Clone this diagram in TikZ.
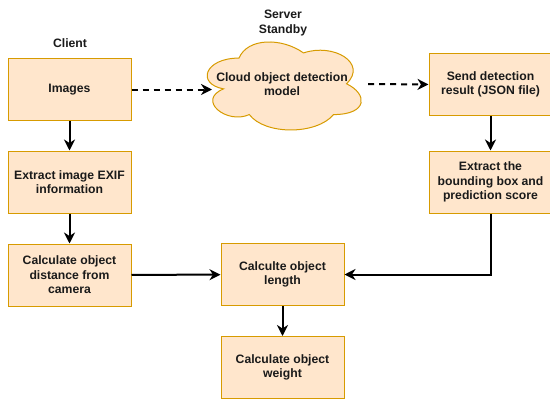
\documentclass[tikz,border=0pt]{standalone}
\usepackage{fontspec}
\setmainfont{Liberation Sans}
\usetikzlibrary{arrows.meta}
\definecolor{boxfill}{HTML}{FFE6CC}
\definecolor{boxline}{HTML}{D79B00}
\definecolor{ink}{HTML}{1A1A1A}
\tikzset{
  stepbox/.style={draw=boxline, fill=boxfill, line width=1pt, minimum width=123pt,
    minimum height=62pt, inner sep=2pt, align=center,
    font=\fontsize{12.2}{14.6}\selectfont\bfseries, text=ink},
  heading/.style={align=center, font=\fontsize{12.2}{15.5}\selectfont\bfseries, text=ink},
  flow/.style={line width=2pt, -{Stealth[length=11pt,width=11pt,inset=3.5pt]}},
  dflow/.style={flow, dash pattern=on 6pt off 5pt},
}
\begin{document}
\begin{tikzpicture}[x=1pt,y=-1pt]
\useasboundingbox (0,0) rectangle (550,399);

% headings
\node[heading] (client) at (70,43) {Client};
\node[heading] (server) at (283,23) {Server\\Standby};

% client-side steps
\node[stepbox] (img)  at (69.5,89.5)  {Images};
\node[stepbox] (exif) at (69.5,182)   {Extract image EXIF\\information};
\node[stepbox] (dist) at (69.5,275)   {Calculate object\\distance from\\camera};

% shared steps
\node[stepbox] (len) at (282.5,274.5) {Calculte object\\length};
\node[stepbox] (wt)  at (282.5,367.5) {Calculate object\\weight};

% server-side steps (right edge runs off the page)
\node[stepbox] (send) at (490.5,84.5) {Send detection\\result (JSON file)};
\node[stepbox] (bbox) at (490.5,182)  {Extract the\\bounding box and\\prediction score};

% cloud outline
\begin{scope}[shift={(196pt,-32.4pt)}, x=172pt, y=-102.7pt]
  \draw[boxline, fill=boxfill, line width=1pt]
    (0.25,0.25) .. controls (0.05,0.25) and (0,0.5) .. (0.16,0.55)
    .. controls (0,0.66) and (0.18,0.9) .. (0.31,0.8)
    .. controls (0.4,1) and (0.7,1) .. (0.8,0.8)
    .. controls (1,0.8) and (1,0.6) .. (0.875,0.5)
    .. controls (1,0.3) and (0.8,0.1) .. (0.625,0.2)
    .. controls (0.5,0.05) and (0.3,0.05) .. (0.25,0.25) -- cycle;
\end{scope}
\node[heading, minimum width=172pt, minimum height=102.7pt, inner sep=0pt,
  font=\fontsize{12.2}{14.6}\selectfont\bfseries] (cloud) at (282,84)
  {Cloud object detection\\model};
\coordinate (cloudin) at (212,89.5);

% connectors
\draw[dflow] (img.east) -- (cloudin);
\draw[dflow] (cloud.east) -- (send.west);
\draw[flow] (img) -- (exif);
\draw[flow] (exif) -- (dist);
\draw[flow] (dist) -- (len);
\draw[flow] (send) -- (bbox);
\draw[flow] (bbox.south) |- (len.east);
\draw[flow] (len) -- (wt);
\end{tikzpicture}
\end{document}
